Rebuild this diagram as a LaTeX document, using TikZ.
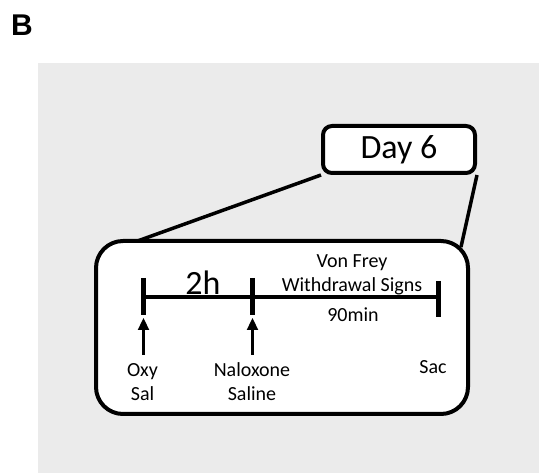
\documentclass[tikz,border=0pt]{standalone}
\usepackage{fontspec}
\setmainfont{Carlito}
\newfontfamily\panelfont{Liberation Sans}
\usetikzlibrary{arrows.meta,calc}

\definecolor{bggray}{HTML}{EBEBEB}

\begin{document}
\begin{tikzpicture}[x=1pt, y=-1pt,
    box/.style={draw, fill=white, line width=4pt, inner sep=0pt},
    link/.style={line width=3.5pt},
    tickmark/.style={line width=4.5pt},
    arr/.style={line width=2.3pt, -{Triangle[width=11pt,length=12pt]}},
    lbl/.style={font=\fontsize{20}{24}\selectfont, align=center, inner sep=0pt}]

        % Background and frame
        \useasboundingbox (0,0) rectangle (539,473);
        \fill[white] (0,0) rectangle (539,473);
        \fill[bggray] (38,63) rectangle (539,473);
        \node[inner sep=0pt, font=\panelfont\bfseries\fontsize{30}{30}\selectfont] (letter) at (22,25.5) {B};

        % Boxes
        \node[box, rounded corners=9pt, minimum width=152pt, minimum height=47pt,
              font=\fontsize{34}{34}\selectfont] (day) at (399,149.5) {Day 6};
        \node[box, rounded corners=27pt, minimum width=372pt, minimum height=173pt] (panel) at (282,327.5) {};

        % Zoom lines
        \coordinate (zl) at (137.5,241);
        \coordinate (zr) at (461,247);
        \draw[link] (day.south west) -- (zl);
        \draw[link] (day.south east) -- (zr);

        % Timeline
        \coordinate (t0) at (143.5,297);
        \coordinate (t1) at (252.5,297);
        \coordinate (t2) at (438.5,297);
        \draw[line width=3.5pt] (t0) -- (t2);
        \draw[tickmark] ($(t0)+(0,-19)$) -- ($(t0)+(0,18)$);
        \draw[tickmark] ($(t1)+(0,-19)$) -- ($(t1)+(0,18)$);
        \draw[tickmark] ($(t2)+(0,-16)$) -- ($(t2)+(0,20)$);

        % Labels
        \node[font=\fontsize{34}{34}\selectfont, inner sep=0pt] (dur) at (203,283) {2h};
        \node[lbl] (vf) at (352,275) {Von Frey\\Withdrawal Signs};
        \node[lbl] (wait) at (353,315) {90min};
        \node[lbl] (oxy) at (142.5,382) {Oxy\\Sal};
        \node[lbl] (nal) at (252,382) {Naloxone\\Saline};
        \node[lbl] (sac) at (433,367) {Sac};

        % Injection arrows
        \draw[arr] ($(t0)+(0,58)$) -- ($(t0)+(0,21)$);
        \draw[arr] ($(t1)+(0,58)$) -- ($(t1)+(0,21)$);

\end{tikzpicture}
\end{document}
